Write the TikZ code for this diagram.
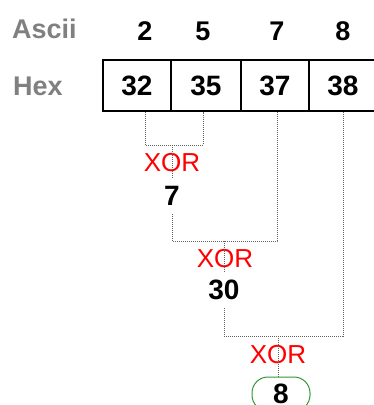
\documentclass[tikz,border=0pt]{standalone}
\usepackage{fontspec}
\setmainfont{Liberation Sans}
\usepackage{tikz}
\usetikzlibrary{positioning}
\definecolor{labelgray}{RGB}{128,128,128}
\definecolor{wiregray}{RGB}{100,100,100}
\definecolor{okgreen}{RGB}{50,150,50}

\begin{document}
\begin{tikzpicture}[x=1pt,y=-1pt,
lbl/.style={font=\fontsize{27}{30}\selectfont\bfseries,text=labelgray,anchor=west,inner sep=0pt},
asc/.style={font=\fontsize{27}{30}\selectfont\bfseries,inner sep=0pt},
cell/.style={draw,line width=1.5pt,minimum height=51pt,font=\fontsize{28}{30}\selectfont\bfseries,inner sep=0pt},
xor/.style={font=\fontsize{26}{30}\selectfont,text=red,inner sep=0pt},
res/.style={font=\fontsize{28}{30}\selectfont\bfseries,inner xsep=2pt,inner ysep=8pt},
wire/.style={draw=wiregray,line width=1pt,dash pattern=on 1pt off 1pt}
]
\clip (0,0) rectangle (374,405);
% row labels
\node[lbl] (ascii) at (12,28.5) {Ascii};
\node[lbl] (hex) at (13,86) {Hex};
% ascii digits
\node[asc] (a1) at (145,31) {2};
\node[asc] (a2) at (203,31) {5};
\node[asc] (a3) at (277,31) {7};
\node[asc] (a4) at (343,31) {8};
% hex cells
\node[cell,minimum width=68pt] (c1) at (137,85.5) {32};
\node[cell,minimum width=70pt] (c2) at (206,85.5) {35};
\node[cell,minimum width=68pt] (c3) at (275,85.5) {37};
\node[cell,minimum width=68pt] (c4) at (343,85.5) {38};
% xor steps
\node[xor] (x1) at (172,163) {XOR};
\node[res] (r1) at (172,196) {7};
\node[xor] (x2) at (225,259) {XOR};
\node[res] (r2) at (224,290) {30};
\node[xor] (x3) at (278,355) {XOR};
\node[draw=okgreen,line width=1pt,rounded corners=16pt,minimum width=58pt,minimum height=34pt,
  font=\fontsize{28}{30}\selectfont\bfseries] (r3) at (281,394) {8};
\coordinate (j1) at (172,145);
\coordinate (j2) at (224,241);
\coordinate (j3) at (278,336);
% wires
\draw[wire] (c1.south -| a1) -- (a1 |- j1) -- (a2 |- j1) -- (c2.south -| a2);
\draw[wire] (j1) -- (r1.north);
\draw[wire] (r1.south) -- (r1 |- j2) -- (a3 |- j2) -- (c3.south -| a3);
\draw[wire] (j2) -- (r2.north);
\draw[wire] (r2.south) -- (r2 |- j3) -- (a4 |- j3) -- (c4.south -| a4);
\draw[wire] (j3) -- (j3 |- r3.north);
\end{tikzpicture}
\end{document}
